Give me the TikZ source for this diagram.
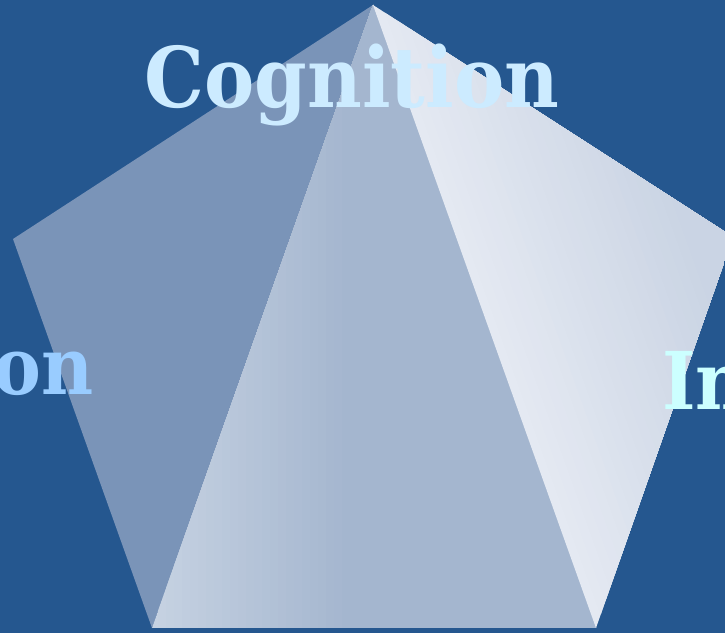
\documentclass[tikz,border=0pt]{standalone}
\usepackage{fontspec}
\setmainfont{DejaVu Serif}
\usepackage{xcolor}
\usepackage{tikz}
\usetikzlibrary{calc}
\definecolor{pagebg}{HTML}{25578F}
\definecolor{faceleft}{HTML}{7A94B8}
\definecolor{midlight}{HTML}{C6D2E2}
\definecolor{midbase}{HTML}{A3B5CE}
\definecolor{rgtlight}{HTML}{E4E9F2}
\definecolor{rgtbase}{HTML}{C9D3E3}
\definecolor{cogtext}{HTML}{CCEBFF}
\definecolor{lefttext}{HTML}{99CCFF}
\definecolor{rgttext}{HTML}{CCFFFF}

\begin{document}
\begin{tikzpicture}[x=1bp,y=1bp,
  bigword/.style={font=\fontsize{84}{84}\selectfont\bfseries,inner sep=0pt,transform shape,xscale=0.9},
  sideword/.style={font=\fontsize{80}{80}\selectfont\bfseries,inner sep=0pt,transform shape,xscale=0.9}]
\clip (0,0) rectangle (725,633);
\fill[pagebg] (0,0) rectangle (725,633);
% corners of the pentagon
\coordinate (apex) at (373,628);
\coordinate (lft) at (13,394);
\coordinate (rgt) at (733,396);
\coordinate (botl) at (152,5);
\coordinate (botr) at (596,5);
% left face
\fill[faceleft] (apex) -- (lft) -- (botl) -- cycle;
% front face
\begin{scope}
\clip (apex) -- (botl) -- (botr) -- cycle;
\foreach \i in {0,...,24}{
  \pgfmathsetmacro{\mix}{100-4*\i}
  \fill[fill=midlight!\mix!midbase] (150+8*\i,0) rectangle (700,640);
}
\end{scope}
% right face
\begin{scope}
\clip (apex) -- (rgt) -- (botr) -- cycle;
\begin{scope}[shift={(botr)},rotate=19.7]
\foreach \i in {0,...,24}{
  \pgfmathsetmacro{\mix}{100-4*\i}
  \fill[fill=rgtlight!\mix!rgtbase] (9*\i,-200) rectangle (800,900);
}
\end{scope}
\end{scope}
\node[bigword,text=cogtext,anchor=base] (cog) at (352,525) {Cognition};
\node[sideword,text=lefttext,anchor=base east] (lword) at (94,238) {on};
\node[sideword,text=rgttext,anchor=base west] (rword) at (662,223) {In};
\end{tikzpicture}
\end{document}
